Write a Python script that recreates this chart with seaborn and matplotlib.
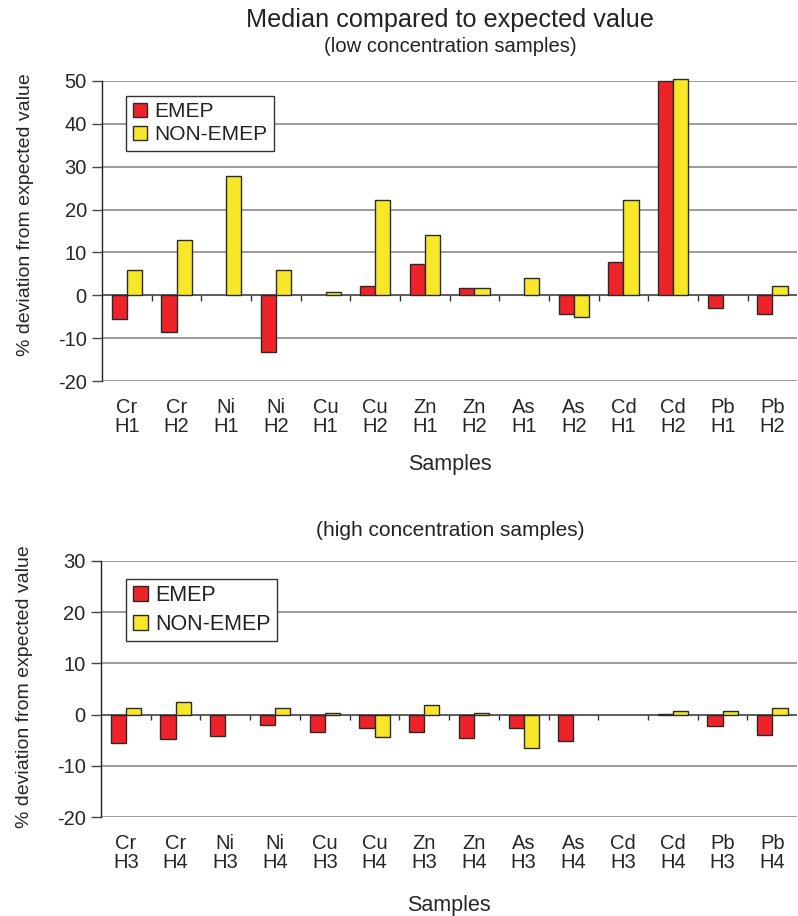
import numpy as np
import pandas as pd
import seaborn as sns
import matplotlib
matplotlib.use("Agg")
import matplotlib.pyplot as plt
from matplotlib.patches import Patch
from matplotlib.transforms import blended_transform_factory

# ---- data -------------------------------------------------------------
low_samples = ["Cr\nH1", "Cr\nH2", "Ni\nH1", "Ni\nH2", "Cu\nH1", "Cu\nH2", "Zn\nH1",
               "Zn\nH2", "As\nH1", "As\nH2", "Cd\nH1", "Cd\nH2", "Pb\nH1", "Pb\nH2"]
low_emep = [-5.6, -8.6, 0.0, -13.2, 0.0, 2.2, 7.4, 1.7, 0.0, -4.4, 7.8, 50.0, -3.0, -4.4]
low_non_emep = [5.9, 12.9, 27.8, 5.9, 0.8, 22.2, 14.1, 1.7, 4.0, -5.1, 22.2, 50.5, 0.0, 2.2]

high_samples = ["Cr\nH3", "Cr\nH4", "Ni\nH3", "Ni\nH4", "Cu\nH3", "Cu\nH4", "Zn\nH3",
                "Zn\nH4", "As\nH3", "As\nH4", "Cd\nH3", "Cd\nH4", "Pb\nH3", "Pb\nH4"]
high_emep = [-5.6, -4.8, -4.1, -2.0, -3.4, -2.7, -3.4, -4.6, -2.7, -5.2, 0.0, 0.15, -2.2, -4.0]
high_non_emep = [1.2, 2.5, 0.0, 1.2, 0.25, -4.3, 1.9, 0.25, -6.6, 0.0, 0.0, 0.8, 0.8, 1.2]

groups = ["EMEP", "NON-EMEP"]
low_yticks = [-20, -10, 0, 10, 20, 30, 40, 50]
high_yticks = [-20, -10, 0, 10, 20, 30]

RED = "#EE2229"
YELLOW = "#F8E628"
EDGE = "#2a2a2a"
GRID = "#8a8a8a"

sns.set_theme(style="white")
plt.rcParams["font.family"] = ["Liberation Sans", "DejaVu Sans"]
plt.rcParams["text.color"] = "#222222"

fig = plt.figure(figsize=(7.98, 9.16), dpi=100)
ax_low = fig.add_axes([0.128, 0.584, 0.871, 0.3276])
ax_high = fig.add_axes([0.1266, 0.108, 0.8724, 0.2796])


def long_frame(samples, emep, non_emep):
    return pd.DataFrame({
        "sample": samples * 2,
        "value": list(emep) + list(non_emep),
        "group": [groups[0]] * len(samples) + [groups[1]] * len(samples),
    })


def draw_panel(ax, samples, emep, non_emep, yticks, legend_anchor, legend_spacing,
               legend_size, ylabel_y, xlabel_pad):
    df = long_frame(samples, emep, non_emep)
    sns.barplot(data=df, x="sample", y="value", hue="group", hue_order=groups,
                palette=[RED, YELLOW], saturation=1, width=0.61, gap=0,
                edgecolor=EDGE, linewidth=1.0, errorbar=None, ax=ax, zorder=3)
    for p in ax.patches:
        p.set_clip_on(False)
        if p.get_height() == 0:
            p.set_visible(False)

    n = len(samples)
    ax.set_xlim(-0.5, n - 0.5)
    ax.set_ylim(yticks[0], yticks[-1])
    ax.set_yticks(yticks)
    ax.set_yticklabels([str(t) for t in yticks], fontsize=14.5)
    ax.yaxis.grid(True, color=GRID, linewidth=1.2)
    ax.set_axisbelow(True)

    for side in ["top", "right", "bottom"]:
        ax.spines[side].set_visible(False)
    ax.spines["left"].set_color("#222222")
    ax.spines["left"].set_linewidth(1.0)
    ax.tick_params(axis="y", which="major", left=True, length=7, width=1,
                   color="#444444", pad=4)

    # category axis drawn across the zero line, with boundary ticks below it
    ax.axhline(0, color="#555555", linewidth=1.2, zorder=2)
    trans = blended_transform_factory(ax.transData, ax.transAxes)
    y0 = (0 - yticks[0]) / (yticks[-1] - yticks[0])
    ax.vlines(np.arange(n - 1) + 0.5, y0 - 0.02, y0, transform=trans,
              color="#333333", linewidth=1.0, zorder=2)

    ax.tick_params(axis="x", bottom=False, length=0, pad=12)
    ax.set_xticks(range(n))
    ax.set_xticklabels(samples, fontsize=14.5, linespacing=1.0)

    ax.set_xlabel("Samples", fontsize=15.5, labelpad=xlabel_pad)
    ax.set_ylabel("% deviation from expected value", fontsize=14, labelpad=8)
    ax.yaxis.set_label_coords(-0.098, ylabel_y)

    handles = [Patch(facecolor=RED, edgecolor=EDGE, linewidth=1.0),
               Patch(facecolor=YELLOW, edgecolor=EDGE, linewidth=1.0)]
    leg = ax.legend(handles, groups, loc="upper left", bbox_to_anchor=legend_anchor,
                    fontsize=legend_size, frameon=True, fancybox=False, framealpha=1,
                    edgecolor="#333333", handlelength=0.7, handleheight=0.7,
                    handletextpad=0.35, borderpad=0.3, labelspacing=legend_spacing,
                    borderaxespad=0)
    leg.get_frame().set_linewidth(1.0)
    leg.set_zorder(5)


draw_panel(ax_low, low_samples, low_emep, low_non_emep, low_yticks,
           (0.035, 0.95), 0.2, 15, 0.555, 13)
draw_panel(ax_high, high_samples, high_emep, high_non_emep, high_yticks,
           (0.036, 0.93), 0.35, 15.5, 0.51, 17)

fig.text(0.564, 0.978, "Median compared to expected value", ha="center", va="center",
         fontsize=18.2)
fig.text(0.564, 0.949, "(low concentration samples)", ha="center", va="center",
         fontsize=14.6)
fig.text(0.564, 0.421, "(high concentration samples)", ha="center", va="center",
         fontsize=15)

fig.savefig("out.png", dpi=100, facecolor="white")
